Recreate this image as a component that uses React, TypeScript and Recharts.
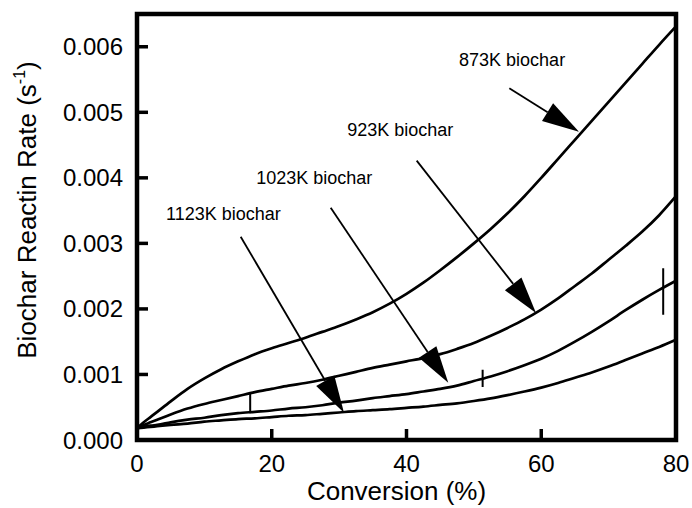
import React from 'react';
import { LineChart, Line, XAxis, YAxis, ReferenceArea, ReferenceLine, ReferenceDot } from 'recharts';

const conversion = [0, 1, 2, 3, 5, 7.5, 10, 12.5, 15, 17.5, 20, 22.5, 25, 27.5, 30, 32.5, 35, 37.5, 40, 42.5, 45, 47.5, 50, 52.5, 55, 57.5, 60, 62.5, 65, 67.5, 70, 72.5, 75, 77.5, 80];
// rates in units of 1e-3 s^-1
const rate873 = [0.18, 0.27, 0.35, 0.43, 0.59, 0.78, 0.94, 1.08, 1.20, 1.31, 1.40, 1.48, 1.56, 1.65, 1.74, 1.84, 1.95, 2.08, 2.23, 2.40, 2.59, 2.79, 3.00, 3.22, 3.46, 3.72, 4.00, 4.29, 4.58, 4.87, 5.16, 5.45, 5.74, 6.03, 6.31];
const rate923 = [0.18, 0.23, 0.27, 0.31, 0.39, 0.48, 0.55, 0.61, 0.67, 0.73, 0.78, 0.83, 0.87, 0.92, 0.98, 1.04, 1.10, 1.15, 1.20, 1.25, 1.31, 1.39, 1.48, 1.59, 1.71, 1.84, 1.99, 2.16, 2.35, 2.54, 2.75, 2.96, 3.18, 3.43, 3.72];
const rate1023 = [0.18, 0.20, 0.22, 0.23, 0.27, 0.31, 0.34, 0.38, 0.41, 0.43, 0.45, 0.48, 0.50, 0.53, 0.57, 0.60, 0.64, 0.67, 0.70, 0.74, 0.78, 0.83, 0.90, 0.97, 1.05, 1.14, 1.24, 1.36, 1.50, 1.65, 1.81, 1.98, 2.14, 2.29, 2.43];
const rate1123 = [0.18, 0.19, 0.20, 0.21, 0.23, 0.25, 0.28, 0.30, 0.32, 0.33, 0.35, 0.37, 0.38, 0.40, 0.42, 0.44, 0.455, 0.47, 0.49, 0.51, 0.535, 0.56, 0.595, 0.635, 0.685, 0.74, 0.80, 0.87, 0.95, 1.03, 1.12, 1.22, 1.32, 1.42, 1.53];

// noise spikes on the 1023K trace: conversion, low end, high end (1e-3 s^-1)
const spikeX1023 = [16.8, 51.3, 78.1];
const spikeLo1023 = [0.41, 0.81, 1.91];
const spikeHi1023 = [0.72, 1.07, 2.62];

const xTicks = [0, 20, 40, 60, 80];
const yTicks = [0, 0.001, 0.002, 0.003, 0.004, 0.005, 0.006];

const labelNames = ['873K biochar', '923K biochar', '1023K biochar', '1123K biochar'];
const labelX = [47.8, 31.2, 17.7, 4.3];
const labelY = [5.706, 4.645, 3.913, 3.357];
const arrowFromX = [55.26, 41.51, 28.75, 15.39];
const arrowFromY = [5.366, 4.262, 3.544, 3.102];
const arrowToX = [65.6, 59.22, 46.2, 30.72];
const arrowToY = [4.704, 1.938, 0.874, 0.417];

const FONT = 'Liberation Sans, Arial, sans-serif';

const rows: any[] = conversion.map((c, i) => ({
  x: c,
  s873: rate873[i] / 1000,
  s923: rate923[i] / 1000,
  s1023: rate1023[i] / 1000,
  s1123: rate1123[i] / 1000,
}));
spikeX1023.forEach((sx, i) => {
  const k = rows.findIndex((r) => r.x > sx);
  rows.splice(k, 0,
    { x: sx, sp: spikeLo1023[i] / 1000 },
    { x: sx, sp: spikeHi1023[i] / 1000 },
  );
});

const XTick = (props: any) => {
  const { x, y, payload } = props;
  return (
    <g>
      <line x1={x} x2={x} y1={y} y2={y - 11} stroke="#000" strokeWidth={3.5} />
      <text x={x} y={y + 32} textAnchor="middle" fontSize={24} fontFamily={FONT} fill="#000">
        {payload.value}
      </text>
    </g>
  );
};

const YTick = (props: any) => {
  const { x, y, payload } = props;
  return (
    <g>
      <line x1={x} x2={x + 11} y1={y} y2={y} stroke="#000" strokeWidth={3.5} />
      <text x={x - 14} y={y + 8.5} textAnchor="end" fontSize={24} fontFamily={FONT} fill="#000">
        {Number(payload.value).toFixed(3)}
      </text>
    </g>
  );
};

const XTitle = (props: any) => {
  const vb = props.viewBox || { x: 137, y: 440, width: 539, height: 68 };
  const cx = vb.x + vb.width / 2 - 10;
  return (
    <text x={cx} y={vb.y + 60} textAnchor="middle" fontSize={26} fontFamily={FONT} fill="#000">
      Conversion (%)
    </text>
  );
};

const YTitle = (props: any) => {
  const vb = props.viewBox || { x: 0, y: 14, width: 137, height: 426 };
  const cx = vb.x + 36;
  const cy = vb.y + vb.height / 2 - 17;
  return (
    <text x={cx} y={cy} transform={`rotate(-90, ${cx}, ${cy})`} textAnchor="middle" fontSize={26} fontFamily={FONT} fill="#000">
      Biochar Reactin Rate (s
      <tspan fontSize={16} dy={-11}>-1</tspan>
      <tspan dy={11}>)</tspan>
    </text>
  );
};

const Arrow = (props: any) => {
  const { x1, y1, x2, y2 } = props;
  const dx = x2 - x1;
  const dy = y2 - y1;
  const len = Math.hypot(dx, dy) || 1;
  const ux = dx / len;
  const uy = dy / len;
  const hl = 37;
  const hw = 10.5;
  const bx = x2 - ux * hl;
  const by = y2 - uy * hl;
  const px = -uy;
  const py = ux;
  const pts = `${x2},${y2} ${bx + px * hw},${by + py * hw} ${bx - px * hw},${by - py * hw}`;
  return (
    <g>
      <line x1={x1} y1={y1} x2={bx} y2={by} stroke="#000" strokeWidth={1.8} />
      <polygon points={pts} fill="#000" />
    </g>
  );
};

export default function App() {
  return (
    <div style={{ position: 'absolute', left: 0, top: 0, background: '#fff' }}>
      <LineChart width={692} height={508} data={rows} margin={{ top: 14, right: 16, left: 0, bottom: 0 }}>
        <XAxis
          dataKey="x"
          type="number"
          domain={[0, 80]}
          ticks={xTicks}
          tick={<XTick />}
          tickSize={0}
          tickMargin={0}
          axisLine={false}
          tickLine={false}
          height={68}
          label={<XTitle />}
        />
        <YAxis
          type="number"
          domain={[0, 0.0065]}
          ticks={yTicks}
          tick={<YTick />}
          tickSize={0}
          tickMargin={0}
          axisLine={false}
          tickLine={false}
          width={137}
          allowDataOverflow
          label={<YTitle />}
        />
        <Line type="monotone" dataKey="s873" stroke="#000" strokeWidth={2.7} dot={false} isAnimationActive={false} connectNulls />
        <Line type="monotone" dataKey="s923" stroke="#000" strokeWidth={2.7} dot={false} isAnimationActive={false} connectNulls />
        <Line type="monotone" dataKey="s1023" stroke="#000" strokeWidth={2.7} dot={false} isAnimationActive={false} connectNulls />
        <Line type="monotone" dataKey="s1123" stroke="#000" strokeWidth={2.7} dot={false} isAnimationActive={false} connectNulls />
        <Line type="linear" dataKey="sp" stroke="#000" strokeWidth={2} dot={false} isAnimationActive={false} connectNulls={false} />
        {labelNames.map((n, i) => (
          <ReferenceLine
            key={'a' + i}
            segment={[
              { x: arrowFromX[i], y: arrowFromY[i] / 1000 },
              { x: arrowToX[i], y: arrowToY[i] / 1000 },
            ]}
            ifOverflow="visible"
            shape={(p: any) => <Arrow {...p} />}
          />
        ))}
        {labelNames.map((n, i) => (
          <ReferenceDot
            key={'l' + i}
            x={labelX[i]}
            y={labelY[i] / 1000}
            r={0}
            ifOverflow="visible"
            shape={(p: any) => (
              <text x={p.cx} y={p.cy} fontSize={18} fontFamily={FONT} fill="#000">
                {n}
              </text>
            )}
          />
        ))}
        <ReferenceArea
          x1={0}
          x2={80}
          y1={0}
          y2={0.0065}
          fill="none"
          fillOpacity={0}
          stroke="#000"
          strokeWidth={4.5}
          ifOverflow="visible"
        />
      </LineChart>
    </div>
  );
}
